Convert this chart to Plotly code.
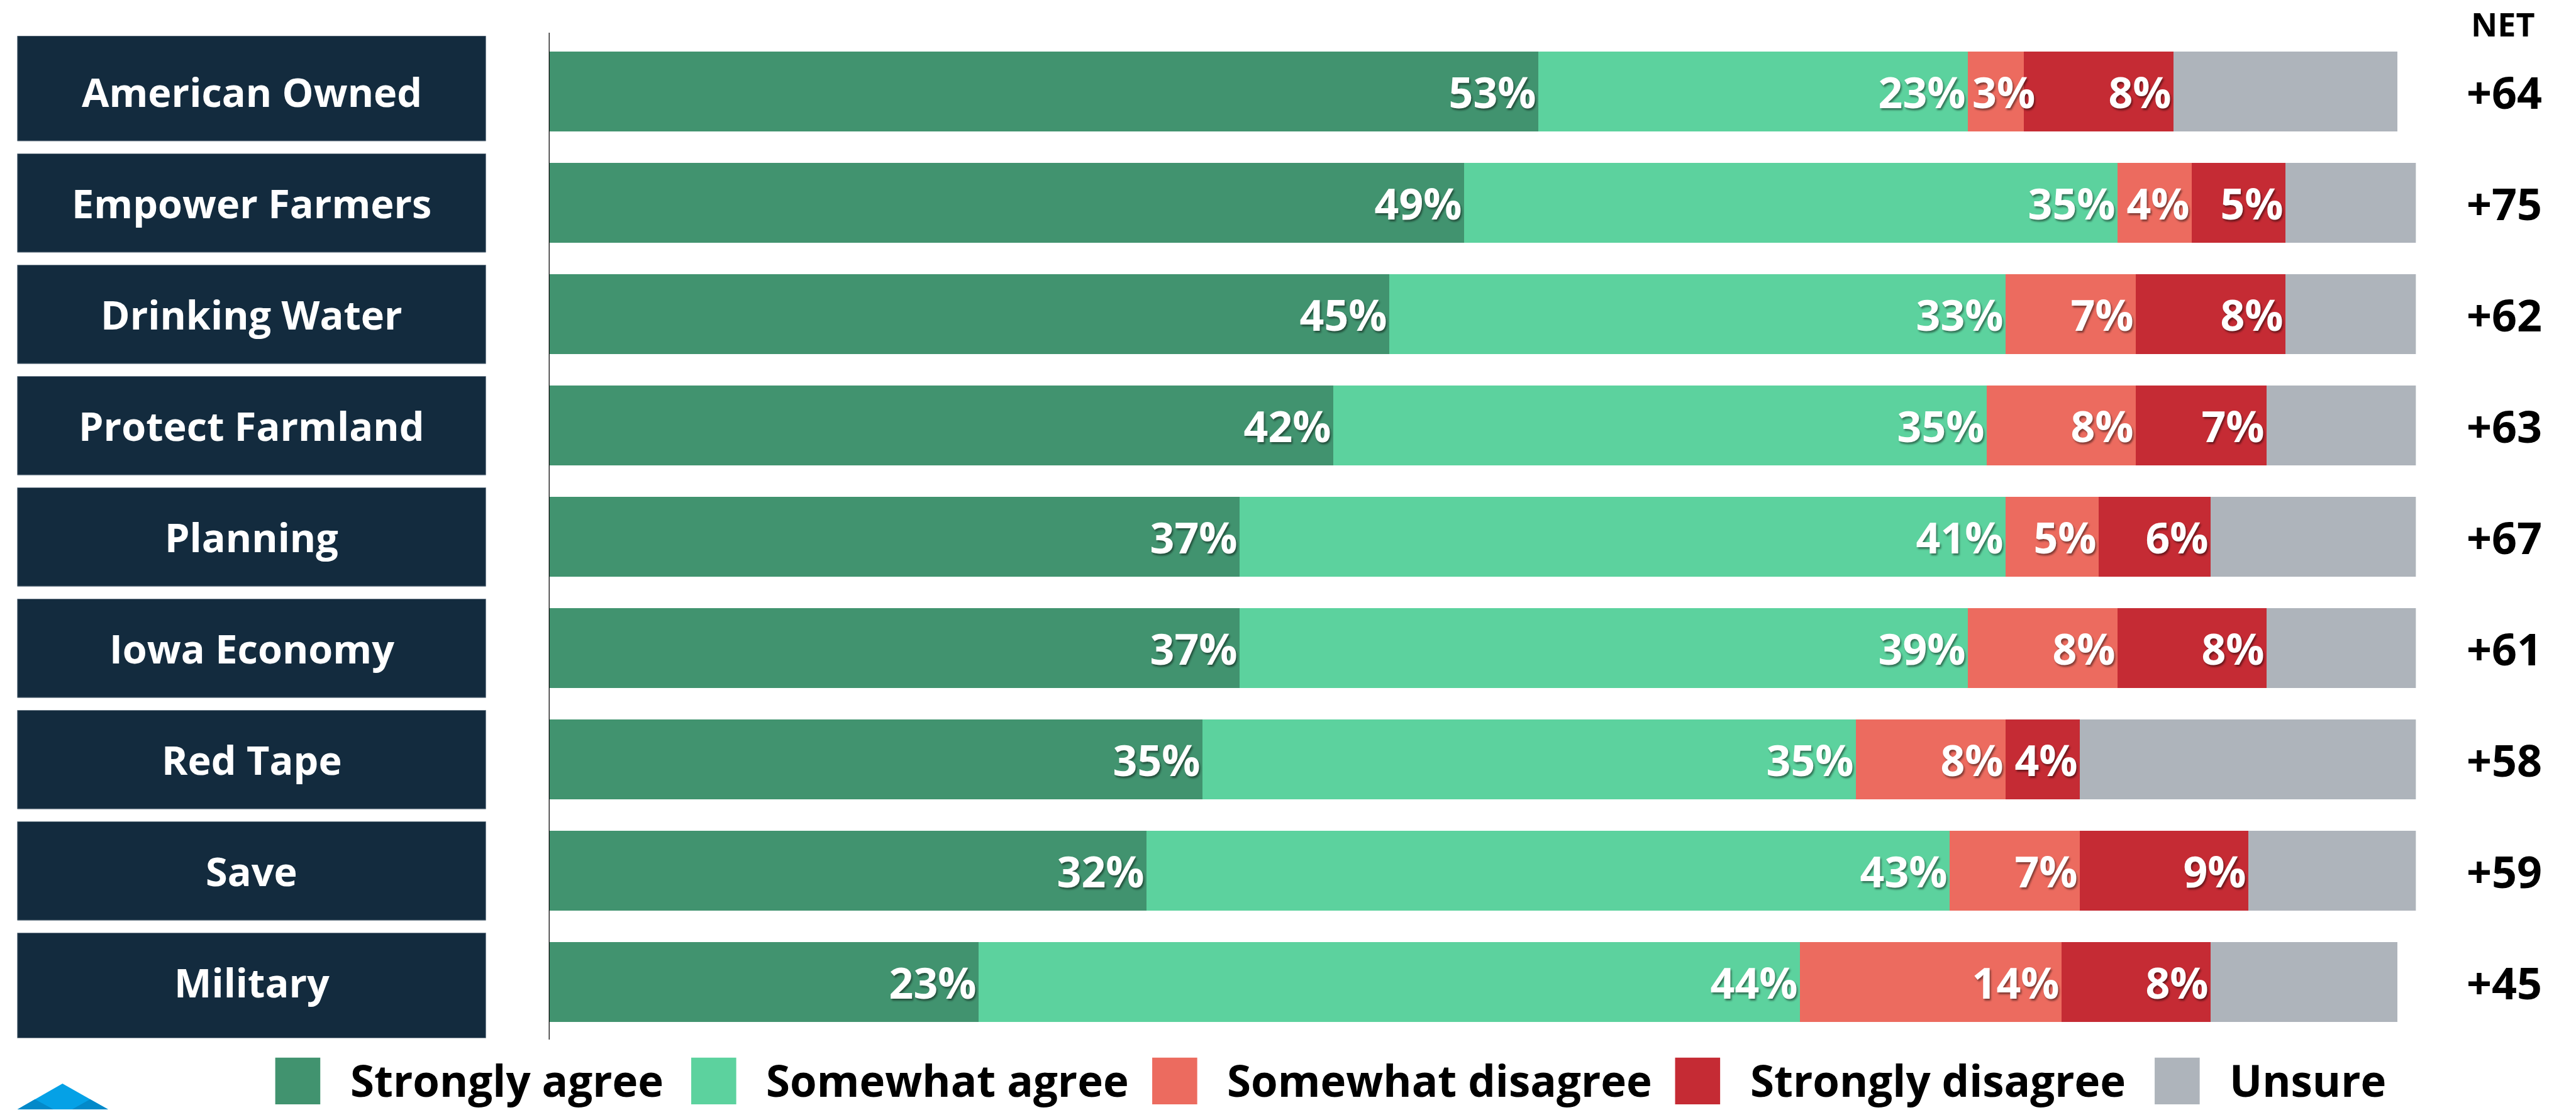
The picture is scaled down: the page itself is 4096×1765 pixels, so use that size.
import plotly.graph_objects as go

# ---- data -------------------------------------------------------------
categories = [
    "American Owned", "Empower Farmers", "Drinking Water", "Protect Farmland",
    "Planning", "Iowa Economy", "Red Tape", "Save", "Military",
]
strongly_agree = [53, 49, 45, 42, 37, 37, 35, 32, 23]
somewhat_agree = [23, 35, 33, 35, 41, 39, 35, 43, 44]
somewhat_disagree = [3, 4, 7, 8, 5, 8, 8, 7, 14]
strongly_disagree = [8, 5, 8, 7, 6, 8, 4, 9, 8]
unsure = [12, 7, 7, 8, 11, 8, 18, 9, 10]
net_labels = ["+64", "+75", "+62", "+63", "+67", "+61", "+58", "+59", "+45"]

series_names = ["Strongly agree", "Somewhat agree", "Somewhat disagree",
                "Strongly disagree", "Unsure"]
series_values = [strongly_agree, somewhat_agree, somewhat_disagree,
                 strongly_disagree, unsure]
series_colors = ["#41936F", "#5CD29E", "#EC6B5F", "#C52B34", "#AEB4BB"]
series_labelled = [True, True, True, True, False]

# ---- canvas geometry (pixels) -----------------------------------------
W, H = 4096, 1765
S = 0.895  # drawing scale


def px(x):
    return x * S / W


def py(y):
    return 1 - y * S / H


NAVY = "#132B3E"
FONT = "Open Sans"
LABEL_FONT = dict(family=FONT, size=68, color="white", weight="bold",
                  shadow="2px 3px 3px rgba(0,0,0,0.45)")
MIN_FIT = 4  # segments narrower than this (in %) get a left-aligned label

x_dom = [px(975), px(4292)]
y_dom = [py(1844), py(64)]
rows = list(range(len(categories)))
n = len(categories)

fig = go.Figure()
annotations = []
shapes = []

running = [0] * n
for name, vals, col, lab in zip(series_names, series_values, series_colors, series_labelled):
    if lab:
        positions = ["inside" if v >= MIN_FIT else "none" for v in vals]
        texts = [f"{v}%" for v in vals]
    else:
        positions = "none"
        texts = None
    fig.add_trace(go.Bar(
        y=rows, x=vals, orientation="h", name=name,
        marker=dict(color=col, line=dict(width=0)),
        width=0.718,
        text=texts,
        textposition=positions,
        insidetextanchor="end",
        textangle=0,
        constraintext="none",
        textfont=LABEL_FONT,
        showlegend=False,
        hoverinfo="skip",
    ))
    # labels too wide for their segment start at the segment's left edge
    if lab:
        for i, v in enumerate(vals):
            if v < MIN_FIT:
                annotations.append(dict(
                    xref="x", yref="y", x=running[i] + 0.2, y=i,
                    text=f"{v}%", showarrow=False, xanchor="left",
                    yanchor="middle", borderpad=0, font=LABEL_FONT))
    running = [r + v for r, v in zip(running, vals)]

# category boxes on the left
for i, cat in enumerate(categories):
    top = i - 0.4425
    bot = i + 0.4425
    if i == 0:
        top = i - 0.516
    if i == n - 1:
        bot = i + 0.516
    shapes.append(dict(type="rect", xref="paper", yref="y",
                       x0=px(31), x1=px(863), y0=top, y1=bot,
                       fillcolor=NAVY, line=dict(color="#6F7F8C", width=1),
                       layer="below"))
    annotations.append(dict(xref="paper", yref="y", x=px(447), y=i,
                            text=cat, showarrow=False, xanchor="center",
                            yanchor="middle",
                            font=dict(family=FONT, size=63, color="white",
                                      weight="bold")))
    annotations.append(dict(xref="paper", yref="y", x=px(4449), y=i,
                            text=net_labels[i], showarrow=False,
                            xanchor="center", yanchor="middle",
                            font=dict(family=FONT, size=70, color="black",
                                      weight="bold")))

annotations.append(dict(xref="paper", yref="paper", x=px(4447), y=py(42),
                        text="NET", showarrow=False, xanchor="center",
                        yanchor="middle",
                        font=dict(family=FONT, size=52, color="black",
                                  weight="bold")))

# vertical baseline at 0%
shapes.append(dict(type="line", xref="x", yref="paper", x0=0, x1=0,
                   y0=py(58), y1=py(1847),
                   line=dict(color="black", width=2.5)))

# legend drawn as squares and labels
legend_x = [489, 1228, 2047, 2976, 3828]
for lx, name, col in zip(legend_x, series_names, series_colors):
    shapes.append(dict(type="rect", xref="paper", yref="paper",
                       x0=px(lx), x1=px(lx + 80), y0=py(1962), y1=py(1879),
                       fillcolor=col, line=dict(width=0)))
    annotations.append(dict(xref="paper", yref="paper", x=px(lx + 132),
                            y=0, text=name, showarrow=False,
                            xanchor="left", yanchor="bottom", borderpad=0,
                            font=dict(family=FONT, size=69, color="black",
                                      weight="bold")))

# logo mark in the lower-left corner
def tri(pts, color):
    d = "M " + " L ".join(f"{px(x)},{py(y)}" for x, y in pts) + " Z"
    return dict(type="path", xref="paper", yref="paper", path=d,
                fillcolor=color, line=dict(width=0))


shapes.append(tri([(111, 1925), (31, 1971), (192, 1971)], "#05A1E6"))
shapes.append(tri([(62, 1953), (31, 1971), (95, 1971)], "#0389C9"))
shapes.append(tri([(160, 1953), (128, 1971), (192, 1971)], "#0389C9"))

fig.update_layout(
    width=W, height=H,
    margin=dict(l=0, r=0, t=0, b=0),
    barmode="stack",
    bargap=0,
    paper_bgcolor="white",
    plot_bgcolor="white",
    xaxis=dict(domain=x_dom, range=[0, 100], visible=False, fixedrange=True),
    yaxis=dict(domain=y_dom, range=[n - 0.5, -0.5], visible=False,
               fixedrange=True),
    shapes=shapes,
    annotations=annotations,
    showlegend=False,
)

fig.write_html("out.html")
